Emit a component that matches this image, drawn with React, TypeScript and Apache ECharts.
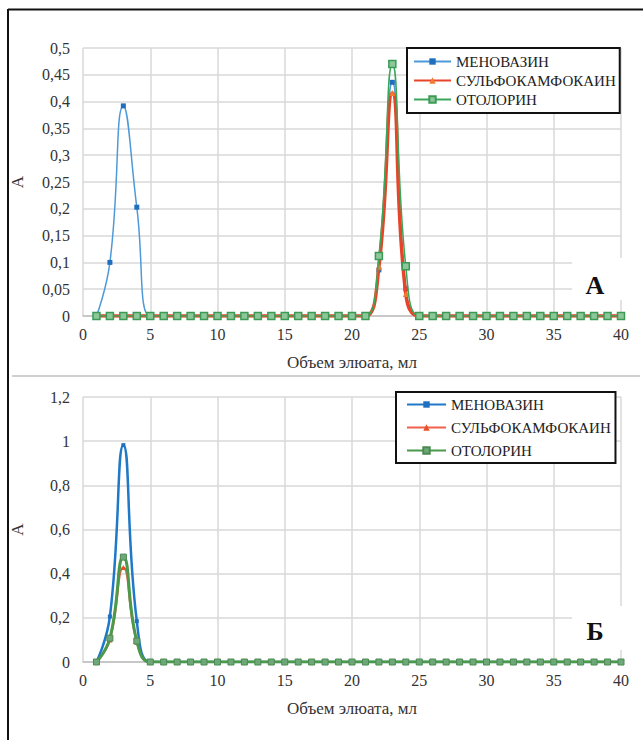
import React, { useEffect, useRef } from "react";
import * as echarts from "echarts";

const xValues = [1, 2, 3, 4, 5, 6, 7, 8, 9, 10, 11, 12, 13, 14, 15, 16, 17, 18, 19, 20, 21, 22, 23, 24, 25, 26, 27, 28, 29, 30, 31, 32, 33, 34, 35, 36, 37, 38, 39, 40];

const seriesNames = ["МЕНОВАЗИН", "СУЛЬФОКАМФОКАИН", "ОТОЛОРИН"];

// Panel А
const menovazinA = [0, 0.1, 0.392, 0.203, 0, 0, 0, 0, 0, 0, 0, 0, 0, 0, 0, 0, 0, 0, 0, 0, 0, 0.086, 0.436, 0.051, 0, 0, 0, 0, 0, 0, 0, 0, 0, 0, 0, 0, 0, 0, 0, 0];
const sulfoA = [0, 0, 0, 0, 0, 0, 0, 0, 0, 0, 0, 0, 0, 0, 0, 0, 0, 0, 0, 0, 0, 0.092, 0.416, 0.041, 0, 0, 0, 0, 0, 0, 0, 0, 0, 0, 0, 0, 0, 0, 0, 0];
const otolorinA = [0, 0, 0, 0, 0, 0, 0, 0, 0, 0, 0, 0, 0, 0, 0, 0, 0, 0, 0, 0, 0, 0.112, 0.47, 0.093, 0, 0, 0, 0, 0, 0, 0, 0, 0, 0, 0, 0, 0, 0, 0, 0];

// Panel Б
const menovazinB = [0, 0.206, 0.982, 0.185, 0, 0, 0, 0, 0, 0, 0, 0, 0, 0, 0, 0, 0, 0, 0, 0, 0, 0, 0, 0, 0, 0, 0, 0, 0, 0, 0, 0, 0, 0, 0, 0, 0, 0, 0, 0];
const sulfoB = [0, 0.1, 0.428, 0.09, 0, 0, 0, 0, 0, 0, 0, 0, 0, 0, 0, 0, 0, 0, 0, 0, 0, 0, 0, 0, 0, 0, 0, 0, 0, 0, 0, 0, 0, 0, 0, 0, 0, 0, 0, 0];
const otolorinB = [0, 0.108, 0.475, 0.095, 0, 0, 0, 0, 0, 0, 0, 0, 0, 0, 0, 0, 0, 0, 0, 0, 0, 0, 0, 0, 0, 0, 0, 0, 0, 0, 0, 0, 0, 0, 0, 0, 0, 0, 0, 0];

const xAxisTitle = "Объем элюата, мл";
const yAxisTitle = "А";
const panelLabels = ["А", "Б"];

const FONT = '"Liberation Serif"';

const pair = (ys: number[]) => xValues.map((x, i) => [x, ys[i]]);
const comma = (v: number) => String(Math.round(v * 1000) / 1000).replace(".", ",");

function makeAxes(gridIndex: number, yMax: number, yInterval: number) {
  const x = {
    type: "value",
    gridIndex,
    min: 0,
    max: 40,
    interval: 5,
    name: xAxisTitle,
    nameLocation: "middle",
    nameGap: 38,
    nameTextStyle: { fontFamily: FONT, fontSize: 17, color: "#333" },
    axisLine: { show: true, onZero: false, lineStyle: { color: "#bfbfbf", width: 1.5 } },
    axisTick: { show: false },
    axisLabel: { fontFamily: FONT, fontSize: 16, color: "#333", margin: 10 },
    splitLine: { show: true, lineStyle: { color: "#d9d9d9", width: 1.5 } },
  };
  const y = {
    type: "value",
    gridIndex,
    min: 0,
    max: yMax,
    interval: yInterval,
    name: yAxisTitle,
    nameLocation: "middle",
    nameGap: 57,
    nameTextStyle: { fontFamily: FONT, fontSize: 17, color: "#333" },
    axisLine: { show: false },
    axisTick: { show: false },
    axisLabel: { fontFamily: FONT, fontSize: 16, color: "#333", margin: 13, formatter: comma },
    splitLine: { show: true, lineStyle: { color: "#d9d9d9", width: 1.5 } },
  };
  return { x, y };
}

export default function App() {
  const ref = useRef<HTMLDivElement>(null);

  useEffect(() => {
    if (!ref.current) return;
    const chart = echarts.init(ref.current, null, { renderer: "svg" });

    const a = makeAxes(0, 0.5, 0.05);
    const b = makeAxes(1, 1.2, 0.2);
    const bName = (n: string) => n + " ";

    const option: any = {
      animation: false,
      backgroundColor: "#ffffff",
      textStyle: { fontFamily: FONT },
      grid: [
        { left: 83, right: 22, top: 48, height: 268 },
        { left: 83, right: 22, top: 397, height: 265 },
      ],
      xAxis: [a.x, b.x],
      yAxis: [a.y, b.y],
      legend: [
        {
          orient: "vertical",
          left: 407,
          top: 48,
          data: seriesNames.map((n) => ({ name: n })),
          itemWidth: 37,
          itemHeight: 8,
          itemGap: 4,
          backgroundColor: "#fff",
          borderColor: "#111",
          borderWidth: 2,
          borderRadius: 0,
          padding: [6, 4, 6, 6],
          textStyle: { fontFamily: FONT, fontSize: 15, color: "#222" },
          selectedMode: false,
        },
        {
          orient: "vertical",
          left: 396,
          top: 392,
          data: seriesNames.map((n) => ({ name: bName(n) })),
          itemWidth: 39,
          itemHeight: 8,
          itemGap: 8,
          backgroundColor: "#fff",
          borderColor: "#111",
          borderWidth: 2,
          borderRadius: 0,
          padding: [5, 1, 5, 10],
          textStyle: { fontFamily: FONT, fontSize: 15, color: "#222" },
          selectedMode: false,
        },
      ],
      series: [
        {
          name: seriesNames[0],
          type: "line",
          xAxisIndex: 0,
          yAxisIndex: 0,
          data: pair(menovazinA),
          smooth: true,
          symbol: "rect",
          symbolSize: 5,
          lineStyle: { color: "#4e9ad8", width: 1.5 },
          itemStyle: { color: "#1f6fbf" },
          z: 2,
        },
        {
          name: seriesNames[1],
          type: "line",
          xAxisIndex: 0,
          yAxisIndex: 0,
          data: pair(sulfoA),
          smooth: true,
          symbol: "triangle",
          symbolSize: 6,
          lineStyle: { color: "#e8442a", width: 3.5 },
          itemStyle: { color: "#f07a30" },
          z: 3,
        },
        {
          name: seriesNames[2],
          type: "line",
          xAxisIndex: 0,
          yAxisIndex: 0,
          data: pair(otolorinA),
          smooth: true,
          symbol: "rect",
          symbolSize: 7,
          lineStyle: { color: "#3aa85a", width: 1.5 },
          itemStyle: { color: "#8cc79a", borderColor: "#3d9a55", borderWidth: 1.5 },
          z: 4,
        },
        {
          name: bName(seriesNames[0]),
          type: "line",
          xAxisIndex: 1,
          yAxisIndex: 1,
          data: pair(menovazinB),
          smooth: true,
          symbol: "rect",
          symbolSize: 4,
          lineStyle: { color: "#1f78c8", width: 2.5 },
          itemStyle: { color: "#1f6fbf" },
          z: 2,
        },
        {
          name: bName(seriesNames[1]),
          type: "line",
          xAxisIndex: 1,
          yAxisIndex: 1,
          data: pair(sulfoB),
          smooth: true,
          symbol: "triangle",
          symbolSize: 5,
          lineStyle: { color: "#f0604a", width: 2 },
          itemStyle: { color: "#e8502a" },
          z: 3,
        },
        {
          name: bName(seriesNames[2]),
          type: "line",
          xAxisIndex: 1,
          yAxisIndex: 1,
          data: pair(otolorinB),
          smooth: true,
          symbol: "rect",
          symbolSize: 6,
          lineStyle: { color: "#4a9a4a", width: 3 },
          itemStyle: { color: "#6fa878", borderColor: "#4a8a50", borderWidth: 1 },
          z: 4,
        },
      ],
      graphic: [
        { type: "line", shape: { x1: 8, y1: 9.5, x2: 643, y2: 9.5 }, style: { stroke: "#111", lineWidth: 2 }, z: 10 },
        { type: "line", shape: { x1: 8, y1: 9, x2: 8, y2: 740 }, style: { stroke: "#111", lineWidth: 2 }, z: 10 },
        { type: "line", shape: { x1: 12, y1: 376, x2: 640, y2: 376 }, style: { stroke: "#d0d0d0", lineWidth: 2 }, z: 10 },
        { type: "rect", shape: { x: 572, y: 258, width: 50, height: 42 }, style: { fill: "#fff" }, z: 1 },
        { type: "rect", shape: { x: 572, y: 606, width: 50, height: 44 }, style: { fill: "#fff" }, z: 1 },
        {
          type: "text",
          x: 595,
          y: 285,
          z: 11,
          style: { text: panelLabels[0], font: `bold 26px ${FONT}`, fill: "#111", align: "center", verticalAlign: "middle" },
        },
        {
          type: "text",
          x: 595,
          y: 631,
          z: 11,
          style: { text: panelLabels[1], font: `bold 26px ${FONT}`, fill: "#111", align: "center", verticalAlign: "middle" },
        },
      ],
    };

    chart.setOption(option);
    return () => chart.dispose();
  }, []);

  return <div ref={ref} style={{ position: "fixed", left: 0, top: 0, width: 643, height: 740 }} />;
}
